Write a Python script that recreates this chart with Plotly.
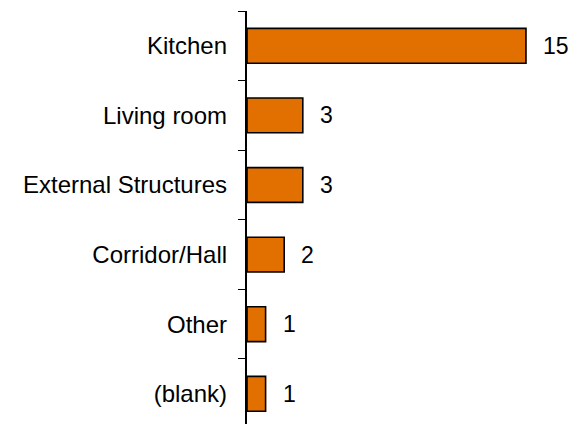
import plotly.graph_objects as go

categories = ["Kitchen", "Living room", "External Structures", "Corridor/Hall", "Other", "(blank)"]
values = [15, 3, 3, 2, 1, 1]

BAR_COLOR = "#E27000"
FONT = "Liberation Sans, Arial, sans-serif"

fig = go.Figure(go.Bar(
    x=values, y=categories, orientation="h",
    marker=dict(color=BAR_COLOR, line=dict(color="black", width=1.6)),
    hoverinfo="skip",
))

for c, v in zip(categories, values):
    fig.add_annotation(x=v, y=c, text=str(v), showarrow=False, xanchor="left",
                       xshift=15, font=dict(family=FONT, size=23, color="black"))

fig.update_layout(
    width=584, height=424,
    margin=dict(l=239, r=0, t=3, b=0, pad=0),
    paper_bgcolor="white", plot_bgcolor="white",
    bargap=0.5, showlegend=False,
    font=dict(family=FONT, size=24, color="black"),
)
fig.update_xaxes(visible=False, range=[0, 18.55])
fig.update_yaxes(
    type="category", categoryorder="array", categoryarray=categories,
    range=[5.549, -0.5], tickson="boundaries", ticks="outside", ticklen=7,
    tickwidth=1.3, tickcolor="black", showline=True, linecolor="black", linewidth=1.6,
    showgrid=False, zeroline=False, ticksuffix="\u00a0\u00a0",
    tickfont=dict(family=FONT, size=24, color="black"),
)

fig.write_html("out.html")
